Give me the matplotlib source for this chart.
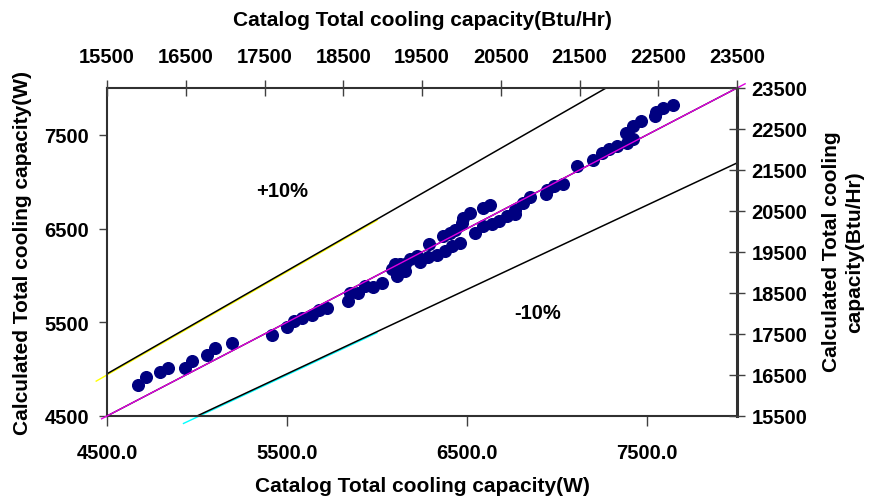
import matplotlib
matplotlib.use("Agg")
import matplotlib.pyplot as plt
import numpy as np

plt.rcParams['font.family'] = ['Liberation Sans', 'DejaVu Sans']
plt.rcParams['font.weight'] = 'bold'

# Catalog vs calculated total cooling capacity (W)
catalog_w = [
    4670, 4715, 4794, 4841, 4933, 4974, 5057, 5100, 5196, 5415,
    5498, 5541, 5585, 5637, 5680, 5721, 5841, 5850, 5896, 5933,
    5976, 6026, 6082, 6100, 6109, 6128, 6156, 6156, 6183, 6220,
    6239, 6285, 6291, 6332, 6368, 6378, 6406, 6415, 6433, 6461,
    6471, 6480, 6517, 6545, 6591, 6591, 6628, 6637, 6680, 6721,
    6767, 6767, 6810, 6850, 6939, 6943, 6984, 7032, 7110, 7202,
    7249, 7291, 7332, 7387, 7424, 7384, 7424, 7465, 7545, 7550,
    7591, 7643,
]
calculated_w = [
    4830, 4918, 4971, 5014, 5011, 5088, 5152, 5223, 5277, 5369,
    5450, 5514, 5550, 5574, 5628, 5656, 5727, 5816, 5816, 5886,
    5876, 5922, 6064, 6117, 5993, 6117, 6117, 6046, 6170, 6205,
    6141, 6195, 6340, 6223, 6418, 6258, 6454, 6312, 6489, 6348,
    6561, 6614, 6667, 6454, 6524, 6720, 6755, 6553, 6578, 6631,
    6660, 6702, 6773, 6837, 6872, 6915, 6957, 6979, 7173, 7234,
    7305, 7351, 7383, 7418, 7454, 7518, 7596, 7652, 7702, 7748,
    7784, 7819,
]

w_ticks = [4500, 5500, 6500, 7500]
btu_ticks = [15500, 16500, 17500, 18500, 19500, 20500, 21500, 22500, 23500]
w_range = (4500, 8000)
btu_range = (15500, 23500)

W, H = 871, 502
fig = plt.figure(figsize=(W / 100, H / 100), dpi=100)
ax = fig.add_axes([107 / W, 1 - 417 / H, (737 - 107) / W, (417 - 89) / H])

ax.set_xlim(*w_range)
ax.set_ylim(*w_range)

# reference lines: perfect agreement and +/-10 %
xs = np.linspace(4440, 8060, 50)
ax.plot(xs, 1.1 * xs, color='black', lw=1.1, zorder=2)
ax.plot(xs, 0.9 * xs, color='black', lw=1.1, zorder=2)
ax.plot(xs, xs, color='black', lw=1.0, zorder=2)

seg = np.array([4440, 6000])
ax.plot(seg, 1.1 * seg - 12, color='yellow', lw=1.0, zorder=1, clip_on=False)
seg2 = np.array([4925, 6000])
ax.plot(seg2, 0.9 * seg2 - 12, color='cyan', lw=1.0, zorder=1, clip_on=False)
seg3 = np.array([4470, 8045])
ax.plot(seg3, seg3, color='#e000e0', lw=1.0, zorder=4, clip_on=False)

ax.plot(catalog_w, calculated_w, 'o', color='#000080', ms=8.4, mec='#000080',
        zorder=3, clip_on=False)

ax.text(5472, 6904, '+10%', fontsize=14.5, fontweight='bold', ha='center', va='center')
ax.text(6892, 5606, '-10%', fontsize=14.5, fontweight='bold', ha='center', va='center')

ax.set_xticks(w_ticks)
ax.set_xticklabels([f'{t:.1f}' for t in w_ticks])
ax.set_yticks(w_ticks)
ax.set_yticklabels([str(t) for t in w_ticks])
ax.tick_params(axis='x', direction='out', length=7, width=1.0, pad=12.5, labelsize=14.5,
               color='#404040')
ax.tick_params(axis='y', direction='out', length=6, width=1.0, pad=7, labelsize=14.5,
               color='#404040')

for side in ('left', 'bottom', 'top', 'right'):
    ax.spines[side].set_linewidth(1.5)
    ax.spines[side].set_color('#303030')

ax_top = ax.twiny()
ax_top.set_xlim(*btu_range)
ax_top.set_xticks(btu_ticks)
ax_top.set_xticklabels([str(t) for t in btu_ticks])
ax_top.tick_params(axis='x', direction='inout', length=11, width=1.0, pad=10.5,
                   labelsize=14.5, color='#404040')

ax_right = ax.twinx()
ax_right.set_ylim(*btu_range)
ax_right.set_yticks(btu_ticks)
ax_right.set_yticklabels([str(t) for t in btu_ticks])
ax_right.tick_params(axis='y', direction='inout', length=11, width=1.0, pad=5,
                     labelsize=14.5, color='#404040')
for a in (ax_top, ax_right):
    for side in a.spines:
        a.spines[side].set_visible(False)
ax.spines['right'].set_linewidth(2.2)

fig.text(422 / W, 1 - 20 / H, 'Catalog Total cooling capacity(Btu/Hr)', fontsize=15,
         fontweight='bold', ha='center', va='center')
fig.text(422 / W, 1 - 487 / H, 'Catalog Total cooling capacity(W)', fontsize=15,
         fontweight='bold', ha='center', va='center')
fig.text(23 / W, 1 - 253 / H, 'Calculated Total cooling capacity(W)', fontsize=15,
         fontweight='bold', ha='center', va='center', rotation=90)
fig.text(843 / W, 1 - 252 / H, 'Calculated Total cooling\ncapacity(Btu/Hr)', fontsize=15,
         fontweight='bold', ha='center', va='center', rotation=90, linespacing=1.3)

fig.savefig('out.png', dpi=100)
